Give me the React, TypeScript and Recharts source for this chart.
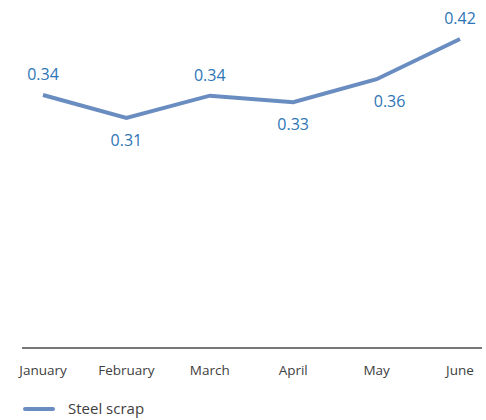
import React from 'react';
import { LineChart, Line, XAxis, YAxis, Legend, LabelList } from 'recharts';

const months = ['January', 'February', 'March', 'April', 'May', 'June'];
const steelScrap = [0.342, 0.31, 0.341, 0.332, 0.364, 0.42];
// where each value label sits relative to its point
const labelSide = ['above', 'below', 'above', 'below', 'below', 'above'];
const labelShiftX = [0, 0, 0, 0, 13, 0];

const data = months.map((m, i) => ({ month: m, value: steelScrap[i], side: labelSide[i], shift: labelShiftX[i] }));

const LINE_COLOR = '#6A8DC1';
const LABEL_COLOR = '#2E75B6';
const TEXT_COLOR = '#404040';
const FONT = '"Open Sans", "Liberation Sans", sans-serif';

function ValueLabel(props: any) {
  const { x, y, value, index } = props;
  const d = data[index];
  const dy = d.side === 'above' ? -21 : 22;
  return (
    <text
      x={x + d.shift}
      y={y + dy}
      textAnchor="middle"
      dominantBaseline="central"
      fill={LABEL_COLOR}
      fontSize={16}
      fontFamily={FONT}
    >
      {Number(value).toFixed(2)}
    </text>
  );
}

function LegendContent() {
  return (
    <div style={{ height: 42, position: 'relative', fontFamily: FONT }}>
      <div style={{ position: 'absolute', left: 23, top: 29, width: 32, height: 4, background: LINE_COLOR, borderRadius: 2 }} />
      <span style={{ position: 'absolute', left: 68, top: 20, fontSize: 15, color: TEXT_COLOR, lineHeight: '20px' }}>
        Steel scrap
      </span>
    </div>
  );
}

export default function App() {
  return (
    <div style={{ position: 'absolute', left: 0, top: 0, width: 486, height: 420, background: '#fff' }}>
      <LineChart width={486} height={420} data={data} margin={{ top: 20, right: 4, left: 22, bottom: 0 }}>
        <XAxis
          dataKey="month"
          padding={{ left: 21, right: 22 }}
          height={30}
          tickLine={false}
          tickMargin={11}
          axisLine={{ stroke: '#4a4a4a', strokeWidth: 1.5 }}
          tick={{ fontSize: 13.5, fill: TEXT_COLOR, fontFamily: FONT }}
          interval={0}
        />
        <YAxis hide domain={[-0.011, 0.4466]} allowDataOverflow />
        <Legend verticalAlign="bottom" align="left" content={<LegendContent />} wrapperStyle={{ left: 0, width: 486 }} height={42} />
        <Line
          dataKey="value"
          stroke={LINE_COLOR}
          strokeWidth={4}
          dot={false}
          isAnimationActive={false}
        >
          <LabelList dataKey="value" content={<ValueLabel />} />
        </Line>
      </LineChart>
    </div>
  );
}
